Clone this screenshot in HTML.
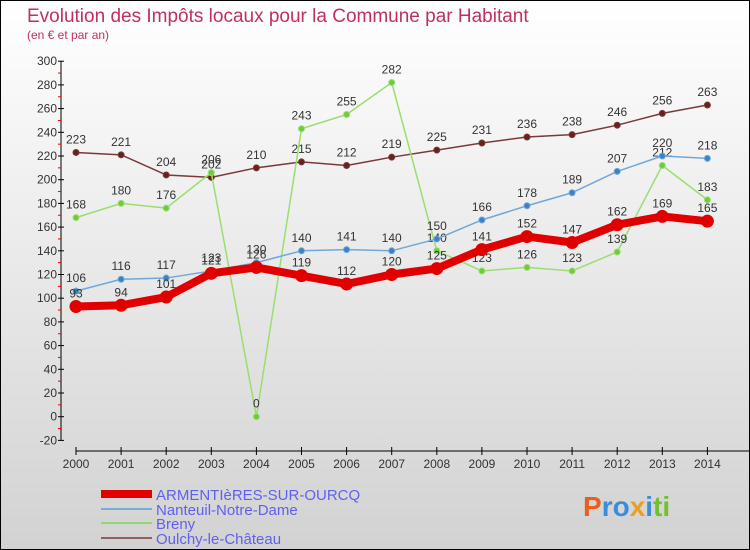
<!DOCTYPE html>
<html><head><meta charset="utf-8"><style>
body{margin:0}
#c{width:748px;height:548px;border:1px solid #000;background:linear-gradient(#fff,#d2d2d2);position:relative;font-family:"Liberation Sans",sans-serif;overflow:hidden}
</style></head><body>
<div id="c">
<svg id="s" width="748" height="548">
<text x="26" y="21" font-size="19" fill="#c0305f">Evolution des Impôts locaux pour la Commune par Habitant</text>
<text x="26" y="38" font-size="12" fill="#c0305f">(en € et par an)</text>
<g id="g"></g>
<text x="582" y="515" font-size="28" font-weight="bold" fill="#3a8ed8"><tspan fill="#e86020">P</tspan><tspan fill="#3a8ed8">ro</tspan><tspan fill="#e8a020">x</tspan><tspan fill="#3a8ed8">i</tspan><tspan fill="#70c030">ti</tspan></text>
</svg>
</div>
<script>
const years=[2000,2001,2002,2003,2004,2005,2006,2007,2008,2009,2010,2011,2012,2013,2014];
const armentieres=[93,94,101,121,126,119,112,120,125,141,152,147,162,169,165];
const nanteuil=[106,116,117,123,130,140,141,140,150,166,178,189,207,220,218];
const breny=[168,180,176,206,0,243,255,282,140,123,126,123,139,212,183];
const oulchy=[223,221,204,202,210,215,212,219,225,231,236,238,246,256,263];
const yTicks=[-20,0,20,40,60,80,100,120,140,160,180,200,220,240,260,280,300];
const names=["ARMENTIèRES-SUR-OURCQ","Nanteuil-Notre-Dame","Breny","Oulchy-le-Château"];
const X=i=>75+i*45.1, Y=v=>415.7-v*1.185;
const g=document.getElementById('g');const NS='http://www.w3.org/2000/svg';
function mk(t,a,txt){const e=document.createElementNS(NS,t);for(const k in a)e.setAttribute(k,a[k]);if(txt!==undefined)e.textContent=txt;g.appendChild(e);return e;}
let e;
e=mk('line',{x1:60,y1:Y(300),x2:60,y2:Y(-20),stroke:'#000'});


e=mk('line',{x1:75,y1:450,x2:748,y2:450,stroke:'#000'});


yTicks.forEach(v=>{
 mk('line',{x1:57,y1:Y(v),x2:63,y2:Y(v),stroke:'#000'});
 if(v<300) mk('line',{x1:57,y1:Y(v+10),x2:60,y2:Y(v+10),stroke:'#e00'});
 e=mk('text',{x:56,y:Y(v)+4,'font-size':12,'text-anchor':'end',fill:'#333'},String(v));
 
 
});
years.forEach((y,i)=>{
 mk('line',{x1:X(i),y1:446,x2:X(i),y2:454,stroke:'#000'});
 e=mk('text',{x:X(i),y:467,'font-size':12,'text-anchor':'middle',fill:'#333'},String(y));
 
 
});
function series(d,col,w,r,dot,nm){
 e=mk('polyline',{points:d.map((v,i)=>X(i)+','+Y(v)).join(' '),fill:'none',stroke:col,'stroke-width':w,'stroke-linejoin':'round'});
 
 
 d.forEach((v,i)=>{
  e=mk('circle',{cx:X(i),cy:Y(v),r:r,fill:dot,stroke:col,'stroke-width':1});
  
  
  e=mk('text',{x:X(i),y:Y(v)-9,'font-size':12,'text-anchor':'middle',fill:'#333'},String(v));
  
  
 });
}
series(oulchy,'#7a3a3a',1.5,3,'#6b2020','oulchy');
series(breny,'#9ade70',1.5,3,'#6ccc3a','breny');
series(nanteuil,'#6fa8d8',1.5,3,'#3a82c8','nanteuil');
series(armentieres,'#e00000',8,6,'#e00000','armentieres');
const lc=['#e00000','#7aaed0','#90d870','#906060'],lw=[8,2,2,2],ly=[493,508,522,537];
names.forEach((n,i)=>{
 e=mk('line',{x1:100,y1:ly[i],x2:151,y2:ly[i],stroke:lc[i],'stroke-width':lw[i]});
 
 
 e=mk('text',{x:155,y:ly[i]+6,'font-size':15,fill:'#6060f0'},n);
 
 
});
</script>
</body></html>
